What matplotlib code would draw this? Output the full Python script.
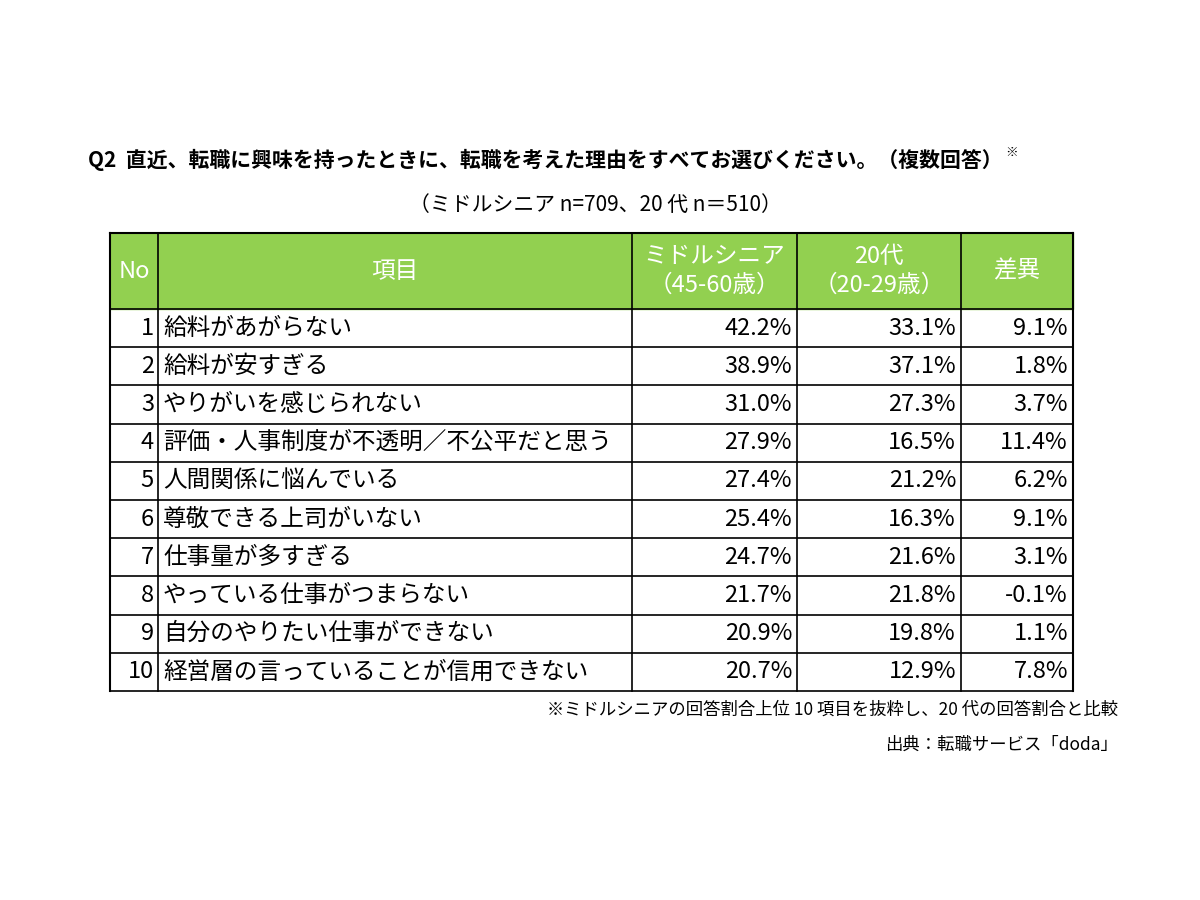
import matplotlib
matplotlib.use("Agg")
import matplotlib.pyplot as plt
from matplotlib.patches import Rectangle

plt.rcParams["font.family"] = "Noto Sans CJK JP"

title = "Q2  直近、転職に興味を持ったときに、転職を考えた理由をすべてお選びください。（複数回答）"
subtitle = "（ミドルシニア n=709、20 代 n＝510）"
headers = ["No", "項目", "ミドルシニア\n（45-60歳）", "20代\n（20-29歳）", "差異"]
nos = [1, 2, 3, 4, 5, 6, 7, 8, 9, 10]
items = ["給料があがらない", "給料が安すぎる", "やりがいを感じられない",
         "評価・人事制度が不透明／不公平だと思う", "人間関係に悩んでいる",
         "尊敬できる上司がいない", "仕事量が多すぎる", "やっている仕事がつまらない",
         "自分のやりたい仕事ができない", "経営層の言っていることが信用できない"]
middle = [42.2, 38.9, 31.0, 27.9, 27.4, 25.4, 24.7, 21.7, 20.9, 20.7]
young = [33.1, 37.1, 27.3, 16.5, 21.2, 16.3, 21.6, 21.8, 19.8, 12.9]
diff = [9.1, 1.8, 3.7, 11.4, 6.2, 9.1, 3.1, -0.1, 1.1, 7.8]
note1 = "※ミドルシニアの回答割合上位 10 項目を抜粋し、20 代の回答割合と比較"
note2 = "出典：転職サービス「doda」"

fig = plt.figure(figsize=(12, 9), dpi=100)
ax = fig.add_axes([0, 0, 1, 1])
ax.set_xlim(0, 1200); ax.set_ylim(900, 0); ax.axis("off")

cols = [110, 158, 632, 797, 961, 1073]
top, hdr_bot = 233, 309
rh = (691 - hdr_bot) / len(nos)
green = "#92D050"
fs = 17

ax.add_patch(Rectangle((cols[0], top), cols[-1] - cols[0], hdr_bot - top, color=green, zorder=0))
for i, h in enumerate(headers):
    ax.text((cols[i] + cols[i + 1]) / 2, (top + hdr_bot) / 2, h, color="white",
            ha="center", va="center", fontsize=fs, linespacing=1.3)

for r in range(len(nos)):
    yc = hdr_bot + rh * (r + 0.5)
    ax.text(cols[1] - 4, yc, str(nos[r]), ha="right", va="center", fontsize=fs)
    ax.text(cols[1] + 5, yc, items[r], ha="left", va="center", fontsize=fs)
    for j, v in enumerate([middle[r], young[r], diff[r]]):
        ax.text(cols[3 + j] - 5, yc, f"{v:.1f}%", ha="right", va="center", fontsize=fs)

for x in cols:
    ax.plot([x, x], [top, 691], color="black", lw=1.5 if x in (cols[0], cols[-1]) else 1.2)
for r in range(len(nos) + 1):
    y = hdr_bot + rh * r
    ax.plot([cols[0], cols[-1]], [y, y], color="black", lw=1.2)
ax.plot([cols[0], cols[-1]], [top, top], color="black", lw=1.5)

t = ax.text(88, 160, title, ha="left", va="center", fontsize=15, fontweight="bold")
fig.canvas.draw()
bb = t.get_window_extent()
ax.text(bb.x1 + 3, 152, "※", ha="left", va="center", fontsize=9, fontweight="bold")
ax.text(595, 205, subtitle, ha="center", va="center", fontsize=15)
ax.text(1118, 710, note1, ha="right", va="center", fontsize=12.5)
ax.text(1118, 745, note2, ha="right", va="center", fontsize=12.5)

fig.savefig("out.png", dpi=100)
